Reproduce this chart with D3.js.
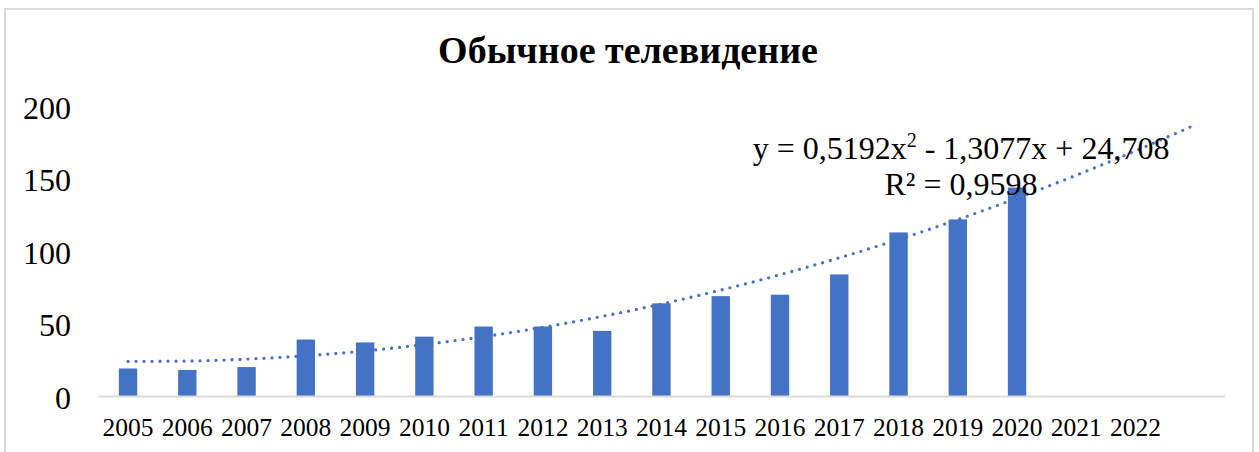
<!DOCTYPE html>
<html>
<head>
<meta charset="utf-8">
<script src="https://cdn.jsdelivr.net/npm/d3@7/dist/d3.min.js"></script>
<style>
  html, body { margin: 0; padding: 0; background: #ffffff; }
  svg { display: block; }
</style>
</head>
<body>
<script>
// ---- data ----
const title = "Обычное телевидение";
const years = ["2005","2006","2007","2008","2009","2010","2011","2012","2013","2014","2015","2016","2017","2018","2019","2020","2021","2022"];
const forecastSlots = [""]; // trendline forward forecast slot (no label)
const values = [19, 18, 20, 39, 37, 41, 48, 48, 45, 64, 69, 70, 84, 113, 122, 144, null, null];
const yTicks = [0, 50, 100, 150, 200];
const trendCoef = [0.5192, -1.3077, 24.708]; // a, b, c of y = a x^2 + b x + c
const eqLine1 = ["y = 0,5192x", "2", " - 1,3077x + 24,708"];
const eqLine2 = "R² = 0,9598";

// ---- layout ----
const W = 1259, H = 452;
const svg = d3.select("body").append("svg").attr("width", W).attr("height", H);

svg.append("rect")
  .attr("x", 5).attr("y", 9).attr("width", 1248).attr("height", 480)
  .attr("fill", "#ffffff").attr("stroke", "#d9d9d9").attr("stroke-width", 2);

const categories = years.concat(forecastSlots);
const x = d3.scaleBand().domain(categories).range([98.4, 1224.5]).paddingInner(0.69).paddingOuter(0.345);
const y = d3.scaleLinear().domain([0, 200]).range([396, 106.5]);

// title
svg.append("text")
  .attr("x", 628).attr("y", 63)
  .attr("text-anchor", "middle")
  .attr("font-family", "'Liberation Serif', 'Times New Roman', serif")
  .attr("font-weight", "bold")
  .attr("font-size", 38)
  .attr("fill", "#000")
  .text(title);

// y axis labels
svg.append("g").selectAll("text").data(yTicks).join("text")
  .attr("x", 71).attr("y", d => y(d) + 12.5)
  .attr("text-anchor", "end")
  .attr("font-family", "'Liberation Serif', 'Times New Roman', serif")
  .attr("font-size", 32)
  .attr("fill", "#000")
  .text(d => d);

// bars
const barData = years.map((yr, i) => ({ yr, v: values[i] })).filter(d => d.v != null);
svg.append("g").selectAll("rect").data(barData).join("rect")
  .attr("x", d => x(d.yr))
  .attr("y", d => y(d.v))
  .attr("width", x.bandwidth())
  .attr("height", d => y(0) - y(d.v))
  .attr("fill", "#4472c4");

// x axis
const xAxis = d3.axisBottom(x).tickSize(0).tickPadding(0);
const gx = svg.append("g").attr("transform", `translate(0,${y(0)})`).call(xAxis);
gx.select(".domain").attr("stroke", "#d9d9d9").attr("stroke-width", 2);
gx.selectAll("text")
  .attr("y", 40).attr("dy", null)
  .attr("font-family", "'Liberation Serif', 'Times New Roman', serif")
  .attr("font-size", 25.5)
  .attr("fill", "#000");

// trendline (from the displayed regression equation)
const trendPts = categories.map((c, i) => {
  const t = i + 1;
  return { c, v: trendCoef[0] * t * t + trendCoef[1] * t + trendCoef[2] };
});
const line = d3.line()
  .x(d => x(d.c) + x.bandwidth() / 2)
  .y(d => y(d.v))
  .curve(d3.curveMonotoneX);
svg.append("path")
  .datum(trendPts)
  .attr("d", line)
  .attr("fill", "none")
  .attr("stroke", "#4472c4")
  .attr("stroke-width", 3.3)
  .attr("stroke-linecap", "round")
  .attr("stroke-dasharray", "0 8");

// equation label
const eq = svg.append("text")
  .attr("x", 961).attr("y", 158.5)
  .attr("text-anchor", "middle")
  .attr("font-family", "'Liberation Serif', 'Times New Roman', serif")
  .attr("font-size", 32)
  .attr("fill", "#000");
eq.append("tspan").text(eqLine1[0]);
eq.append("tspan").attr("font-size", 20).attr("dy", -12).text(eqLine1[1]);
eq.append("tspan").attr("dy", 12).text(eqLine1[2]);

svg.append("text")
  .attr("x", 961).attr("y", 195)
  .attr("text-anchor", "middle")
  .attr("font-family", "'Liberation Serif', 'Times New Roman', serif")
  .attr("font-size", 32)
  .attr("fill", "#000")
  .text(eqLine2);
</script>
</body>
</html>
